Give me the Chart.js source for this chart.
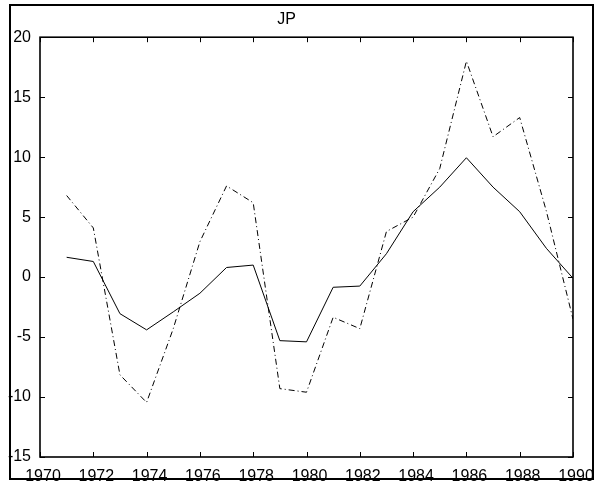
<!DOCTYPE html>
<html>
<head>
<meta charset="utf-8">
<title>JP</title>
<script src="https://cdn.jsdelivr.net/npm/chart.js@4/dist/chart.umd.min.js"></script>
<style>
    html, body { margin: 0; padding: 0; background: #fff; }
    canvas { display: block; }
</style>
</head>
<body>
<canvas id="jpChart" width="597" height="482"></canvas>
<script>
const years = [1971, 1972, 1973, 1974, 1975, 1976, 1977, 1978, 1979, 1980,
               1981, 1982, 1983, 1984, 1985, 1986, 1987, 1988, 1989, 1990];
const solidSeries = [1.65, 1.3, -3.05, -4.4, -2.9, -1.35, 0.8, 1.0, -5.3, -5.4,
                     -0.85, -0.75, 1.95, 5.45, 7.5, 9.95, 7.5, 5.45, 2.4, -0.1];
const dashDotSeries = [6.8, 4.1, -8.15, -10.45, -4.3, 2.95, 7.6, 6.2, -9.3, -9.6,
                       -3.35, -4.3, 3.8, 5.0, 9.05, 18.0, 11.7, 13.3, 5.5, -3.5];
const xTicks = [1970, 1972, 1974, 1976, 1978, 1980, 1982, 1984, 1986, 1988, 1990];
const yTicks = [-15, -10, -5, 0, 5, 10, 15, 20];

const FONT = "'Liberation Sans', Arial, Helvetica, sans-serif";

// box round the axes, inward ticks on all four sides, and the figure frame
const axesBox = {
    id: 'axesBox',
    afterDraw(chart) {
        const { ctx, chartArea: a, scales } = chart;
        const tick = 5;
        ctx.save();
        ctx.strokeStyle = '#000';
        ctx.lineWidth = 1;
        xTicks.forEach(v => {
            const px = Math.round(scales.x.getPixelForValue(v)) + 0.5;
            ctx.beginPath();
            ctx.moveTo(px, a.bottom); ctx.lineTo(px, a.bottom - tick);
            ctx.moveTo(px, a.top); ctx.lineTo(px, a.top + tick);
            ctx.stroke();
        });
        yTicks.forEach(v => {
            const py = Math.round(scales.y.getPixelForValue(v)) + 0.5;
            ctx.beginPath();
            ctx.moveTo(a.left, py); ctx.lineTo(a.left + tick, py);
            ctx.moveTo(a.right, py); ctx.lineTo(a.right - tick, py);
            ctx.stroke();
        });
        ctx.lineWidth = 1.6;
        ctx.strokeRect(a.left, a.top, a.right - a.left, a.bottom - a.top);

        ctx.lineWidth = 2;
        ctx.strokeRect(10, 5, chart.width - 14, chart.height - 8);
        ctx.restore();
    }
};

const ctx = document.getElementById('jpChart').getContext('2d');
new Chart(ctx, {
    type: 'line',
    data: {
        labels: years,
        datasets: [
            {
                label: 'solid',
                data: years.map((y, i) => ({ x: y, y: solidSeries[i] })),
                borderColor: '#000',
                borderWidth: 1,
                pointRadius: 0,
                tension: 0
            },
            {
                label: 'dash-dot',
                data: years.map((y, i) => ({ x: y, y: dashDotSeries[i] })),
                borderColor: '#000',
                borderWidth: 1,
                borderDash: [6, 3, 1, 3],
                pointRadius: 0,
                tension: 0
            }
        ]
    },
    options: {
        responsive: false,
        animation: false,
        layout: { padding: { top: 0, right: 24, bottom: 0, left: 0 } },
        plugins: {
            legend: { display: false },
            tooltip: { enabled: false },
            title: {
                display: true,
                text: 'JP',
                color: '#000',
                font: { family: FONT, size: 16, weight: 'normal' },
                padding: { top: 10, bottom: 8 }
            }
        },
        scales: {
            x: {
                type: 'linear',
                min: 1970,
                max: 1990,
                afterBuildTicks: scale => { scale.ticks = xTicks.map(v => ({ value: v })); },
                afterFit: scale => { scale.height = 25; },
                grid: { display: false },
                border: { display: false },
                ticks: {
                    color: '#000',
                    font: { family: FONT, size: 16 },
                    padding: 2,
                    labelOffset: 3,
                    maxRotation: 0,
                    autoSkip: false,
                    callback: v => String(v)
                }
            },
            y: {
                min: -15,
                max: 20,
                afterBuildTicks: scale => { scale.ticks = yTicks.map(v => ({ value: v })); },
                afterFit: scale => { scale.width = 40; },
                grid: { display: false },
                border: { display: false },
                ticks: {
                    color: '#000',
                    font: { family: FONT, size: 16 },
                    padding: 1,
                    autoSkip: false
                }
            }
        }
    },
    plugins: [axesBox]
});
</script>
</body>
</html>
